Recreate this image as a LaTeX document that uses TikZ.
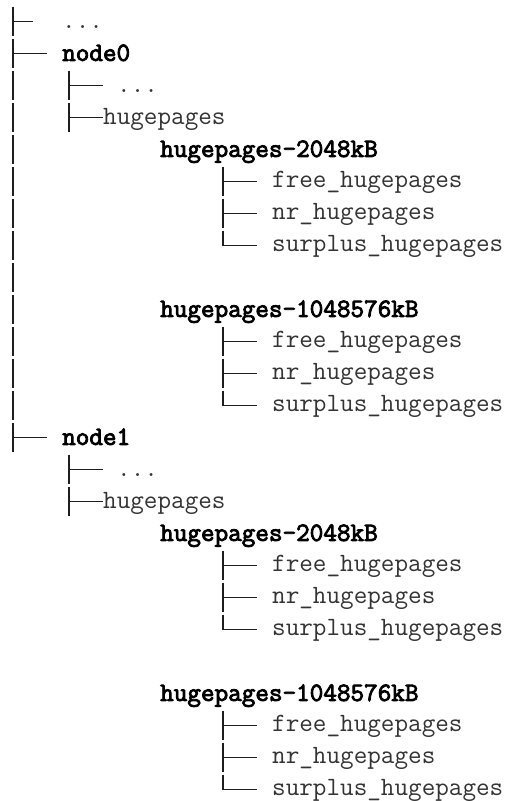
\documentclass[tikz,border=0pt]{standalone}
\usepackage{fontspec}
\newfontfamily\ttheavy[FakeBold=3.2]{Latin Modern Mono}
\definecolor{linec}{HTML}{1E1E1E}
\definecolor{txtc}{HTML}{333333}
\newcommand\treefs{\fontsize{26.4}{32}\selectfont}
\begin{document}
\begin{tikzpicture}[x=1pt,y=-1pt,
  vline/.style={line width=2.2pt,draw=linec},
  hline/.style={line width=1.6pt,draw=linec},
  plain/.style={anchor=base west,inner sep=0pt,font=\treefs\ttfamily,text=txtc},
  bold/.style={anchor=base west,inner sep=0pt,font=\treefs\ttheavy,text=black}]
\useasboundingbox (0,0) rectangle (511,801);
% top row
\node[plain] (top) at (62,28.9) {...};
\draw[hline] (13,21.4) -- (33,21.4);
% level-0 spine, one cell per row
\foreach \k in {1,...,14}{
  \pgfmathsetmacro\c{21.4+32*(\k-1)}
  \draw[vline] (13,{\c-14.7}) -- (13,{\c+14.7});
}
\foreach \nm/\off in {0/0,1/384}{
  % node row
  \node[bold] (n\nm) at (62,{53.4+\off+7.5}) {node\nm};
  \draw[hline] (13,{53.4+\off}) -- (47,{53.4+\off});
  % level 1
  \node[plain] (d\nm) at (117,{85.4+\off+7.5}) {...};
  \node[plain] (h\nm) at (103,{117.4+\off+7.5}) {hugepages};
  \draw[vline] (69,{85.4+\off-14.7}) -- (69,{85.4+\off+14.7});
  \draw[vline] (69,{117.4+\off-14.7}) -- (69,{117.4+\off+14.7});
  \draw[hline] (69,{85.4+\off}) -- (103,{85.4+\off});
  \draw[hline] (69,{117.4+\off}) -- (h\nm.west |- 0,{117.4+\off});
  % two page-size groups
  \foreach \g/\sz/\goff in {a/2048kB/0,b/1048576kB/160}{
    \pgfmathsetmacro\base{149.4+\off+\goff}
    \node[bold] (\g\nm) at (160,{\base+7.5}) {hugepages-\sz};
    \node[plain] (\g f\nm) at (272,{\base+32+6.5}) {free\_hugepages};
    \node[plain] (\g n\nm) at (272,{\base+64+6.5}) {nr\_hugepages};
    \node[plain] (\g s\nm) at (272,{\base+96+6.5}) {surplus\_hugepages};
    \draw[vline] (223,{\base+32-14.7}) -- (223,{\base+32+14.7});
    \draw[vline] (223,{\base+64-14.7}) -- (223,{\base+64+14.7});
    \draw[vline] (223,{\base+96-14.7}) -- (223,{\base+96});
    \draw[hline] (223,{\base+32}) -- (257,{\base+32});
    \draw[hline] (223,{\base+64}) -- (257,{\base+64});
    \draw[hline] (222,{\base+96}) -- (257,{\base+96});
  }
}
\end{tikzpicture}
\end{document}
